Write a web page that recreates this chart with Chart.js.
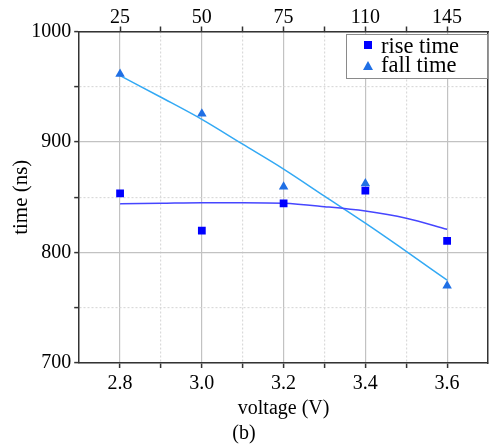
<!DOCTYPE html>
<html>
<head>
<meta charset="utf-8">
<script src="https://cdn.jsdelivr.net/npm/chart.js@4.4.0/dist/chart.umd.min.js"></script>
<style>
  body { margin: 0; background: #fff; }
  #wrap { position: relative; width: 489px; height: 447px; }
  #legend {
    position: absolute; left: 346px; top: 34px; width: 142px; height: 45px;
    box-sizing: border-box; border: 1.5px solid #8a8a8a; background: #fff;
    font-family: "Liberation Serif", serif; font-size: 22.5px; color: #000;
    padding-top: 1px;
  }
  #legend .row { height: 19px; line-height: 19px; white-space: nowrap; position: relative; padding-left: 34px; }
  #legend .sq { position: absolute; left: 17px; top: 5px; width: 8px; height: 8px; background: #0000ff; }
  #legend .tri { position: absolute; left: 16px; top: 6px; width: 0; height: 0;
    border-left: 5px solid transparent; border-right: 5px solid transparent; border-bottom: 9px solid #1f6fe5; }
</style>
</head>
<body>
<div id="wrap">
  <canvas id="chart1" width="489" height="447"></canvas>
  <div id="legend"></div>
</div>
<script>
// 測定値
var voltage = [2.8, 3.0, 3.2, 3.4, 3.6];
var riseTime = [853.6, 819.7, 844.5, 855.9, 810.6];
var fallTime = [961.5, 925.5, 859.6, 862.4, 770];

// フィット曲線
var fitVoltage = [2.8, 2.9, 3.0, 3.1, 3.2, 3.3, 3.4, 3.5, 3.6];
var riseFit = [844, 844.5, 845, 845, 844.5, 841.5, 837.5, 831, 821];
var fallFit = [960, 940.5, 920.5, 898, 875.5, 851, 826.5, 801, 775];

// 目盛り
var xMajor = [2.8, 3.0, 3.2, 3.4, 3.6];
var xMinor = [2.9, 3.1, 3.3, 3.5];
var xLabels = ['2.8', '3.0', '3.2', '3.4', '3.6'];
var topLabels = ['25', '50', '75', '110', '145'];
var yMajor = [700, 800, 900, 1000];
var yMinor = [750, 850, 950];
var yLabels = ['700', '800', '900', '1000'];

var toPoints = function(xs, ys) {
  return xs.map(function(x, i) { return {x: x, y: ys[i]}; });
};
var indexIn = function(list, v) {
  for (var i = 0; i < list.length; i++) {
    if (Math.abs(list[i] - v) < 1e-6) return i;
  }
  return -1;
};
var xTicks = xMajor.concat(xMinor).sort(function(a, b) { return a - b; });
var yTicks = yMajor.concat(yMinor).sort(function(a, b) { return a - b; });

var gridColor = function(major) {
  return function(c) { return c.tick && indexIn(major, c.tick.value) >= 0 ? '#c2c2c2' : '#dadada'; };
};
var gridDash = function(major) {
  return function(c) { return c.tick && indexIn(major, c.tick.value) < 0 ? [2, 2] : []; };
};

Chart.defaults.font.family = '"Liberation Serif", "Times New Roman", serif';
Chart.defaults.font.size = 20;
Chart.defaults.color = '#000';

var chartEl1 = document.getElementById('chart1');
var chart = new Chart(chartEl1.getContext('2d'), {
  type: 'scatter',
  data: {
    datasets: [{
      label: 'rise time',
      data: toPoints(voltage, riseTime),
      pointStyle: 'rect',
      pointRadius: 5.5,
      backgroundColor: '#0000ff',
      borderColor: '#0000ff',
      borderWidth: 0,
      order: 0
    }, {
      label: 'fall time',
      data: toPoints(voltage, fallTime),
      pointStyle: 'triangle',
      pointRadius: 5.5,
      backgroundColor: '#1f6fe5',
      borderColor: '#1f6fe5',
      borderWidth: 0,
      order: 0
    }, {
      label: 'rise fit',
      data: toPoints(fitVoltage, riseFit),
      showLine: true,
      pointRadius: 0,
      borderColor: '#4646ff',
      borderWidth: 1.5,
      cubicInterpolationMode: 'monotone',
      order: 1
    }, {
      label: 'fall fit',
      data: toPoints(fitVoltage, fallFit),
      showLine: true,
      pointRadius: 0,
      borderColor: '#33a9f4',
      borderWidth: 1.5,
      cubicInterpolationMode: 'monotone',
      order: 1
    }]
  },
  options: {
    responsive: false,
    animation: false,
    layout: { autoPadding: false, padding: { left: 0, right: 1, top: 8.5, bottom: 0 } },
    plugins: {
      legend: { display: false },
      tooltip: { enabled: false },
      title: {
        display: true, position: 'bottom', text: '(b)',
        font: { size: 20, weight: 'normal' },
        padding: { top: 0, bottom: 1 }
      }
    },
    scales: {
      x: {
        type: 'linear', position: 'bottom', min: 2.7, max: 3.7,
        afterBuildTicks: function(s) { s.ticks = xTicks.map(function(v) { return {value: v}; }); },
        ticks: {
          autoSkip: false, maxRotation: 0, padding: 4,
          callback: function(v) { var i = indexIn(xMajor, v); return i < 0 ? '' : xLabels[i]; }
        },
        grid: { color: gridColor(xMajor), lineWidth: 1.2, tickLength: 5, tickColor: '#333', tickWidth: 1.5 },
        border: { color: '#333', width: 1.5, dash: gridDash(xMajor) },
        title: { display: true, text: 'voltage (V)', padding: { top: -3, bottom: 1 } }
      },
      xTop: {
        type: 'linear', position: 'top', min: 2.7, max: 3.7,
        afterBuildTicks: function(s) { s.ticks = xTicks.map(function(v) { return {value: v}; }); },
        ticks: {
          autoSkip: false, maxRotation: 0, padding: -3,
          callback: function(v) { var i = indexIn(xMajor, v); return i < 0 ? '' : topLabels[i]; }
        },
        grid: { drawOnChartArea: false, tickLength: 5, tickColor: '#333', tickWidth: 1.5 },
        border: { color: '#333', width: 1.5 }
      },
      y: {
        type: 'linear', position: 'left', min: 700, max: 1000,
        afterBuildTicks: function(s) { s.ticks = yTicks.map(function(v) { return {value: v}; }); },
        ticks: {
          autoSkip: false, padding: 3,
          callback: function(v) { var i = indexIn(yMajor, v); return i < 0 ? '' : yLabels[i]; }
        },
        grid: { color: gridColor(yMajor), lineWidth: 1.2, tickLength: 5, tickColor: '#333', tickWidth: 1.5 },
        border: { color: '#333', width: 1.5, dash: gridDash(yMajor) },
        title: { display: true, text: 'time (ns)', font: { size: 21 }, padding: { top: 9, bottom: -6 } }
      },
      yRight: {
        type: 'linear', position: 'right', min: 700, max: 1000,
        afterBuildTicks: function(s) { s.ticks = yTicks.map(function(v) { return {value: v}; }); },
        ticks: { display: false },
        grid: { drawOnChartArea: false, drawTicks: false },
        border: { color: '#333', width: 1.5 }
      }
    }
  }
});

// 凡例（HTML）
var legendEl = document.getElementById('legend');
chart.data.datasets.slice(0, 2).forEach(function(ds) {
  var row = document.createElement('div');
  row.className = 'row';
  var mk = document.createElement('span');
  mk.className = ds.pointStyle === 'rect' ? 'sq' : 'tri';
  row.appendChild(mk);
  row.appendChild(document.createTextNode(ds.label));
  legendEl.appendChild(row);
});
</script>
</body>
</html>
